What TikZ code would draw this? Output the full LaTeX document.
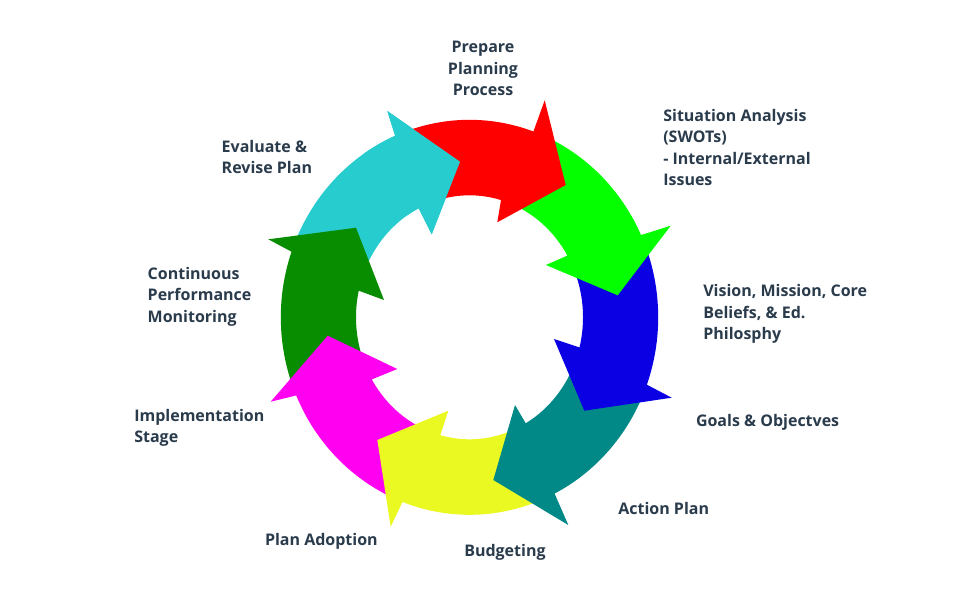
\documentclass[tikz,border=0pt]{standalone}
\usepackage{fontspec}
\setmainfont{Open Sans}
\definecolor{txtc}{HTML}{2A3B4C}
\definecolor{cRed}{HTML}{FF0000}
\definecolor{cLime}{HTML}{04FF00}
\definecolor{cBlue}{HTML}{0B00E4}
\definecolor{cTeal}{HTML}{008986}
\definecolor{cYellow}{HTML}{EBF922}
\definecolor{cMagenta}{HTML}{FF00F0}
\definecolor{cDkGreen}{HTML}{088C00}
\definecolor{cCyan}{HTML}{26CCCE}
\def\RCx{469.5}
\def\RCy{317.3}
\def\ROx{188.7}
\def\ROy{197.5}
\def\RIx{113.5}
\def\RIy{122}
% #1 colour, #2 tail angle, #3 outer notch angle, #4 outer barb, #5 tip, #6 inner barb, #7 inner notch angle
\newcommand{\cyclearrow}[7]{%
  \fill[#1] plot[domain=#2:#3, samples=40, variable=\t] ({\RCx+\ROx*cos(\t)},{\RCy+\ROy*sin(\t)})
    -- #4 -- #5 -- #6
    -- plot[domain=#7:#2, samples=40, variable=\t] ({\RCx+\RIx*cos(\t)},{\RCy+\RIy*sin(\t)})
    -- cycle;}
\begin{document}
\begin{tikzpicture}[x=1pt,y=-1pt,
  lbl/.style={text=txtc, font=\fontsize{16}{21.6}\selectfont\bfseries, inner sep=0pt, outer sep=0pt}]
\useasboundingbox[fill=white] (0,0) rectangle (960,600);
% arrows, drawn so that each head lies over the next tail
\cyclearrow{cCyan}{202}{246.8}{(387.3,111)}{(460,161.7)}{(431.7,234.3)}{243.4}
\cyclearrow{cDkGreen}{159.5}{199.4}{(268.3,239.3)}{(356,227.7)}{(384,300)}{192.6}
\cyclearrow{cMagenta}{113.5}{156.7}{(270.7,401.7)}{(327.7,335.7)}{(397.3,369)}{149.4}
\cyclearrow{cYellow}{66}{110.8}{(390.7,526.7)}{(377.3,440)}{(448.3,410.7)}{104.9}
\cyclearrow{cTeal}{23}{63.2}{(568.3,525)}{(493.3,480)}{(515,405)}{60.3}
\cyclearrow{cBlue}{-22}{19.96}{(671.7,397.7)}{(584.3,410.7)}{(554,339)}{14.3}
\cyclearrow{cLime}{-67}{-24.6}{(670.7,225.7)}{(617.7,295.3)}{(546,265)}{-30.4}
\cyclearrow{cRed}{-110}{-70.2}{(544.7,100.3)}{(565.7,185)}{(497.3,222.3)}{-73.9}
% cyan head again, over the red tail
\cyclearrow{cCyan}{236}{246.8}{(387.3,111)}{(460,161.7)}{(431.7,234.3)}{243.4}
% labels (the base of a multi-line node is the baseline of its last line)
\node[lbl, align=center, anchor=base] (prep) at (483,95.9) {Prepare\\Planning\\Process};
\node[lbl, align=left, anchor=base west] (sit) at (663.3,185.8) {Situation Analysis\\(SWOTs)\\- Internal/External\\Issues};
\node[lbl, align=left, anchor=base west] (vis) at (703.3,339.9) {Vision, Mission, Core\\Beliefs, \& Ed.\\Philosphy};
\node[lbl, anchor=base west] (goals) at (696,426.7) {Goals \& Objectves};
\node[lbl, anchor=base west] (action) at (618.3,514) {Action Plan};
\node[lbl, anchor=base west] (budget) at (464.3,556) {Budgeting};
\node[lbl, anchor=base west] (adopt) at (265,545) {Plan Adoption};
\node[lbl, align=left, anchor=base west] (impl) at (134.3,442.6) {Implementation\\Stage};
\node[lbl, align=left, anchor=base west] (cont) at (147.7,322.2) {Continuous\\Performance\\Monitoring};
\node[lbl, align=left, anchor=base west] (eval) at (221.7,173.9) {Evaluate \&\\Revise Plan};
\end{tikzpicture}
\end{document}
